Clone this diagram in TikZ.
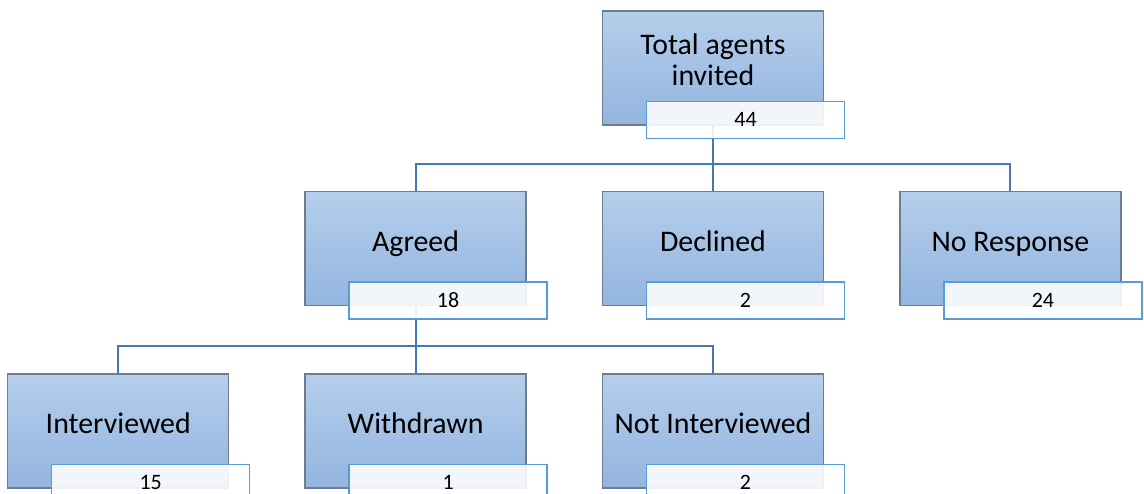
\documentclass[tikz,border=0pt]{standalone}
\usepackage{fontspec}
\setmainfont{Carlito}
\usepackage{tikz}
\usetikzlibrary{calc,positioning}
\definecolor{boxtop}{HTML}{B5CEEB}
\definecolor{boxbot}{HTML}{93B5E0}
\definecolor{boxline}{HTML}{6F7C8C}
\definecolor{connblue}{HTML}{4478B4}
\definecolor{numline}{HTML}{5B9BD5}
\tikzset{
  conn/.style={draw=connblue, line width=1.2pt},
  mainbox/.style={draw=boxline, line width=0.8pt, top color=boxtop, bottom color=boxbot,
    minimum width=4.42cm, minimum height=2.28cm, inner sep=0pt},
  maintext/.style={align=center, font=\fontsize{17}{17.5}\selectfont, inner sep=0pt},
  numbox/.style={draw=numline, line width=0.8pt, fill=white, fill opacity=0.88, text opacity=1,
    minimum width=3.96cm, minimum height=0.74cm, inner sep=0pt, anchor=north west,
    font=\fontsize{12.5}{13}\selectfont}
}
\begin{document}
\begin{tikzpicture}[node distance=1.3cm and 1.5cm]
  \useasboundingbox (0,0) rectangle (22.88,-9.88);

  % boxes
  \node[mainbox] (total) at (14.26,-1.36) {};
  \node[mainbox, below=of total] (declined) {};
  \node[mainbox, left=of declined] (agreed) {};
  \node[mainbox, right=of declined] (noresp) {};
  \node[mainbox, below=1.34cm of agreed] (withdrawn) {};
  \node[mainbox, left=of withdrawn] (interviewed) {};
  \node[mainbox, right=of withdrawn] (notint) {};

  % connectors (behind the number boxes)
  \coordinate (bus1) at ($(total.south)+(0,-0.76)$);
  \coordinate (bus2) at ($(agreed.south)+(0,-0.8)$);
  \draw[conn] (total.south) -- (declined.north);
  \draw[conn] (agreed.north) |- (bus1) -| (noresp.north);
  \draw[conn] (agreed.south) -- (withdrawn.north);
  \draw[conn] (interviewed.north) |- (bus2) -| (notint.north);

  % labels
  \node[maintext] (totalT) at ([yshift=0.16cm]total.center) {Total agents\\invited};
  \node[maintext, anchor=base] (agreedT) at ([yshift=-0.06cm]agreed.center) {Agreed};
  \node[maintext, anchor=base] (declinedT) at ([yshift=-0.06cm]declined.center) {Declined};
  \node[maintext, anchor=base] (norespT) at ([yshift=-0.06cm]noresp.center) {No Response};
  \node[maintext, anchor=base] (interviewedT) at ([yshift=-0.06cm]interviewed.center) {Interviewed};
  \node[maintext, anchor=base] (withdrawnT) at ([yshift=-0.06cm]withdrawn.center) {Withdrawn};
  \node[maintext, anchor=base] (notintT) at ([yshift=-0.06cm]notint.center) {Not Interviewed};

  % counts
  \node[numbox] (totalN) at ([xshift=0.88cm,yshift=0.5cm]total.south west) {44};
  \node[numbox] (agreedN) at ([xshift=0.88cm,yshift=0.5cm]agreed.south west) {18};
  \node[numbox] (declinedN) at ([xshift=0.88cm,yshift=0.5cm]declined.south west) {2};
  \node[numbox] (norespN) at ([xshift=0.88cm,yshift=0.5cm]noresp.south west) {24};
  \node[numbox] (interviewedN) at ([xshift=0.88cm,yshift=0.5cm]interviewed.south west) {15};
  \node[numbox] (withdrawnN) at ([xshift=0.88cm,yshift=0.5cm]withdrawn.south west) {1};
  \node[numbox] (notintN) at ([xshift=0.88cm,yshift=0.5cm]notint.south west) {2};
\end{tikzpicture}
\end{document}
